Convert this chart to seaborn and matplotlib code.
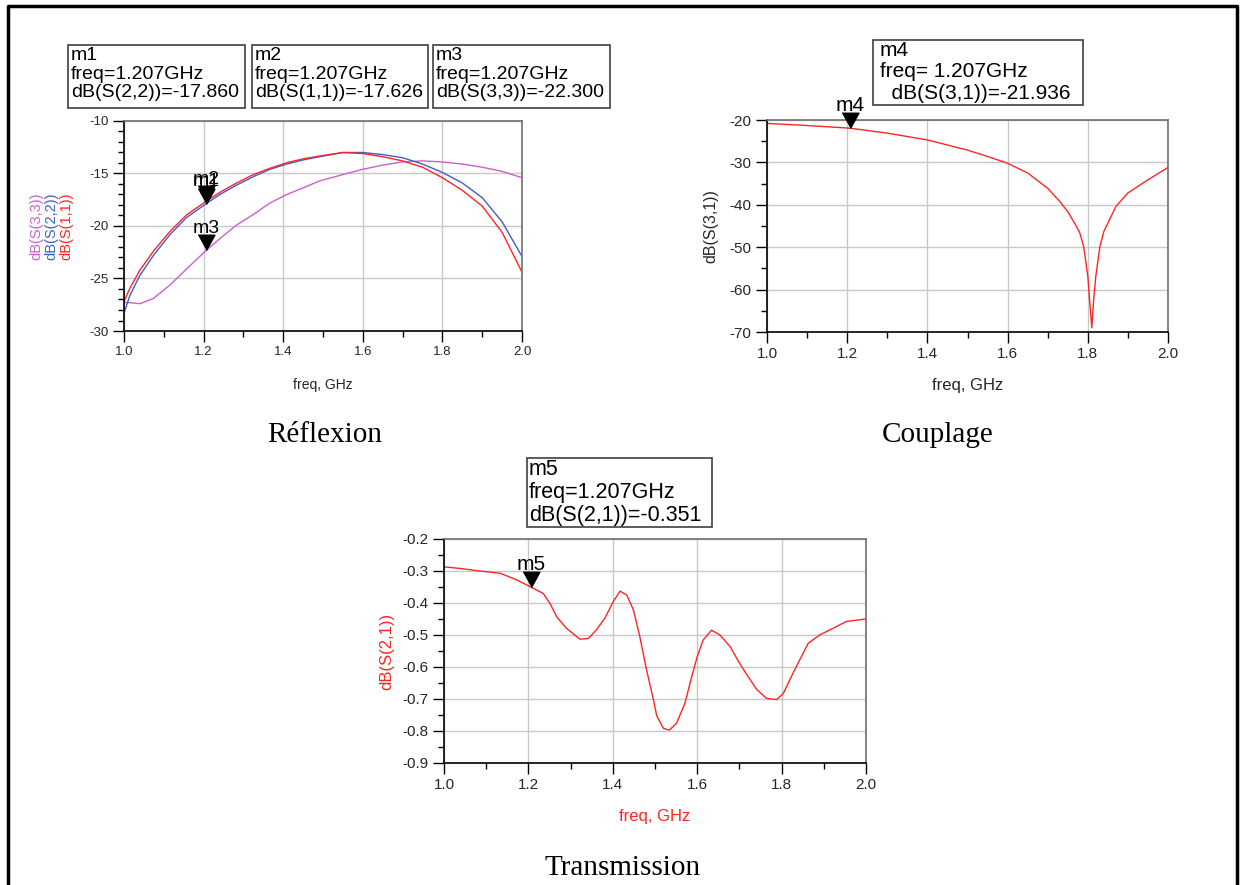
import numpy as np
import pandas as pd
import matplotlib
matplotlib.use("Agg")
import matplotlib.pyplot as plt
import seaborn as sns
from matplotlib.lines import Line2D
from matplotlib.patches import Rectangle
from matplotlib.ticker import MultipleLocator, FormatStrFormatter

# ---- data ----
# Reflexion: S11, S22, S33 (dB)
refl_freq = [1.0, 1.015, 1.04, 1.074, 1.116, 1.157, 1.207, 1.241, 1.283, 1.325, 1.367, 1.409,
             1.451, 1.492, 1.55, 1.6, 1.65, 1.7, 1.75, 1.8, 1.85, 1.9, 1.95, 2.0]
s11 = [-27.2, -25.9, -24.2, -22.4, -20.5, -18.95, -17.626, -16.8, -15.9, -15.1, -14.5, -13.97,
       -13.6, -13.33, -13.0, -13.1, -13.4, -13.8, -14.4, -15.4, -16.6, -18.1, -20.6, -24.4]
s22 = [-28.3, -26.6, -24.7, -22.8, -20.8, -19.2, -17.860, -17.0, -16.1, -15.3, -14.6, -14.1,
       -13.7, -13.4, -13.0, -13.0, -13.2, -13.5, -14.1, -14.9, -15.9, -17.3, -19.6, -22.9]
s33 = [-27.3, -27.3, -27.4, -26.9, -25.6, -24.1, -22.300, -21.2, -19.9, -18.9, -17.8, -17.0,
       -16.35, -15.7, -15.1, -14.6, -14.2, -13.9, -13.8, -13.9, -14.1, -14.4, -14.8, -15.4]

# Couplage: S31 (dB)
coup_freq = [1.0, 1.1, 1.207, 1.3, 1.4, 1.5, 1.55, 1.6, 1.65, 1.7, 1.73, 1.75, 1.77, 1.78,
             1.79, 1.8, 1.805, 1.81, 1.815, 1.82, 1.83, 1.84, 1.87, 1.9, 1.95, 2.0]
s31 = [-20.8, -21.3, -21.936, -23.1, -24.7, -27.1, -28.6, -30.2, -32.5, -36.1, -39.2, -41.6,
       -44.8, -46.6, -50.0, -56.8, -63.0, -69.0, -62.0, -56.8, -50.0, -46.3, -40.4, -37.2,
       -34.1, -31.2]

# Transmission: S21 (dB)
trans_freq = [1.0, 1.038, 1.085, 1.133, 1.173, 1.207, 1.235, 1.251, 1.267, 1.29, 1.322, 1.342,
              1.361, 1.381, 1.401, 1.417, 1.433, 1.449, 1.464, 1.48, 1.488, 1.496, 1.504,
              1.52, 1.534, 1.551, 1.571, 1.587, 1.6, 1.614, 1.634, 1.654, 1.678, 1.697, 1.717,
              1.741, 1.764, 1.788, 1.804, 1.819, 1.839, 1.863, 1.89, 1.922, 1.953, 1.993, 2.0]
s21 = [-0.287, -0.292, -0.300, -0.307, -0.328, -0.351, -0.370, -0.401, -0.443, -0.479, -0.513,
       -0.511, -0.484, -0.448, -0.396, -0.363, -0.375, -0.422, -0.505, -0.609, -0.655, -0.700,
       -0.752, -0.792, -0.797, -0.776, -0.713, -0.630, -0.568, -0.516, -0.485, -0.500, -0.536,
       -0.581, -0.623, -0.670, -0.698, -0.702, -0.683, -0.641, -0.588, -0.526, -0.500, -0.479,
       -0.458, -0.451, -0.450]

marker_freq = 1.207

RED = "#ff2424"
BLUE = "#3f5fc4"
MAGENTA = "#cc5fcc"

sns.set_theme(style="white")
plt.rcParams["font.family"] = ["Liberation Sans", "DejaVu Sans"]
plt.rcParams["axes.unicode_minus"] = False

W, H = 1240, 885
fig = plt.figure(figsize=(W / 100, H / 100), dpi=100)


def px_axes(x0, y0, x1, y1):
    return fig.add_axes([x0 / W, 1 - y1 / H, (x1 - x0) / W, (y1 - y0) / H])


def style_axes(ax, ymaj, ymin, fs):
    ax.set_xlim(1.0, 2.0)
    ax.xaxis.set_major_locator(MultipleLocator(0.2))
    ax.xaxis.set_minor_locator(MultipleLocator(0.1))
    ax.yaxis.set_major_locator(MultipleLocator(ymaj))
    ax.yaxis.set_minor_locator(MultipleLocator(ymin))
    ax.grid(True, which="major", color="#c8c8c8", lw=1.0)
    ax.tick_params(which="major", direction="out", length=8, width=1, color="black",
                   labelsize=fs, left=True, bottom=True, pad=3)
    ax.tick_params(which="minor", direction="out", length=4, width=1, color="black",
                   left=True, bottom=True)
    for s in ["left", "bottom"]:
        ax.spines[s].set_color("black")
        ax.spines[s].set_linewidth(1.2)
    for s in ["top", "right"]:
        ax.spines[s].set_color("#707070")
        ax.spines[s].set_linewidth(1.2)
    ax.set_xlabel("")
    ax.set_ylabel("")
    ax.xaxis.set_major_formatter(FormatStrFormatter("%.1f"))


def put_marker(ax, x, y, name, ms=22, fs=14):
    tri = [(-0.55, 1.0), (0.55, 1.0), (0.0, 0.0)]
    ax.plot([x], [y], marker=tri, markersize=ms, color="black", linestyle="none",
            zorder=5, clip_on=False)
    ax.annotate(name, (x, y), xytext=(0, 0.5 * ms - 1.5), textcoords="offset points",
                ha="center", va="bottom", fontsize=fs, color="black", zorder=6,
                annotation_clip=False)


def marker_box(x0, y0, x1, y1, lines, fs, ls, tx=4, ty=1):
    fig.add_artist(Rectangle((x0 / W, 1 - y1 / H), (x1 - x0) / W, (y1 - y0) / H,
                             transform=fig.transFigure, fill=False, ec="#404040", lw=1.2))
    fig.text((x0 + tx) / W, 1 - (y0 + ty) / H, "\n".join(lines), ha="left", va="top",
             fontsize=fs, linespacing=ls, color="black")


# ---- Reflexion ----
ax1 = px_axes(124, 121, 522, 331)
df_r = pd.DataFrame({"freq": refl_freq, "S11": s11, "S22": s22, "S33": s33})
sns.lineplot(data=df_r, x="freq", y="S33", ax=ax1, color=MAGENTA, lw=1.0)
sns.lineplot(data=df_r, x="freq", y="S22", ax=ax1, color=BLUE, lw=1.0)
sns.lineplot(data=df_r, x="freq", y="S11", ax=ax1, color=RED, lw=1.0)
ax1.set_ylim(-30, -10)
style_axes(ax1, 5, 1, 9.5)
put_marker(ax1, marker_freq, -17.860, "m1")
put_marker(ax1, marker_freq, -17.626, "m2")
put_marker(ax1, marker_freq, -22.300, "m3")
ax1.set_xlabel("freq, GHz", fontsize=10, labelpad=14)
for xp, txt, c in [(36, "dB(S(3,3))", MAGENTA), (51, "dB(S(2,2))", BLUE), (66, "dB(S(1,1))", RED)]:
    fig.text(xp / W, 1 - 226 / H, txt, rotation=90, ha="center", va="center",
             fontsize=10.5, color=c)

marker_box(68, 45, 245, 108, ["m1", "freq=1.207GHz", "dB(S(2,2))=-17.860"], 14, 1.12, tx=3, ty=2)
marker_box(252, 45, 428, 108, ["m2", "freq=1.207GHz", "dB(S(1,1))=-17.626"], 14, 1.12, tx=3, ty=2)
marker_box(433, 45, 610, 108, ["m3", "freq=1.207GHz", "dB(S(3,3))=-22.300"], 14, 1.12, tx=3, ty=2)

# ---- Couplage ----
ax2 = px_axes(767, 120, 1168, 332)
df_c = pd.DataFrame({"freq": coup_freq, "S31": s31})
sns.lineplot(data=df_c, x="freq", y="S31", ax=ax2, color=RED, lw=1.0)
ax2.set_ylim(-70, -20)
style_axes(ax2, 10, 5, 11)
put_marker(ax2, marker_freq, -21.936, "m4", fs=15)
ax2.set_xlabel("freq, GHz", fontsize=12, labelpad=12)
ax2.set_ylabel("dB(S(3,1))", fontsize=11.5, labelpad=8)
marker_box(873, 40, 1083, 105, ["m4", "freq= 1.207GHz", "  dB(S(3,1))=-21.936"], 15, 1.16, tx=7)

# ---- Transmission ----
ax3 = px_axes(444, 539, 866, 763)
df_t = pd.DataFrame({"freq": trans_freq, "S21": s21})
sns.lineplot(data=df_t, x="freq", y="S21", ax=ax3, color=RED, lw=1.0)
ax3.set_ylim(-0.9, -0.2)
style_axes(ax3, 0.1, 0.05, 11)
ax3.yaxis.set_major_formatter(FormatStrFormatter("%.1f"))
put_marker(ax3, marker_freq, -0.351, "m5", fs=15)
ax3.set_xlabel("freq, GHz", fontsize=12, color=RED, labelpad=12)
ax3.set_ylabel("dB(S(2,1))", fontsize=12, color=RED, labelpad=6)
marker_box(527, 458, 712, 527, ["m5", "freq=1.207GHz", "dB(S(2,1))=-0.351"], 15.5, 1.12, tx=2)

# ---- captions ----
for xc, yc, txt in [(325, 435, "Réflexion"), (938, 435, "Couplage"), (623, 868, "Transmission")]:
    fig.text(xc / W, 1 - yc / H, txt, ha="center", va="center", fontsize=21,
             family=["Liberation Serif", "DejaVu Serif"], color="black")

# ---- outer frame ----
fx0, fx1, fy = 7.5 / W, 1236.5 / W, 1 - 5.5 / H
fig.add_artist(Line2D([fx0, fx0, fx1, fx1], [0, fy, fy, 0], transform=fig.transFigure,
                      color="black", lw=2.5))

fig.savefig("out.png", dpi=100, facecolor="white")
